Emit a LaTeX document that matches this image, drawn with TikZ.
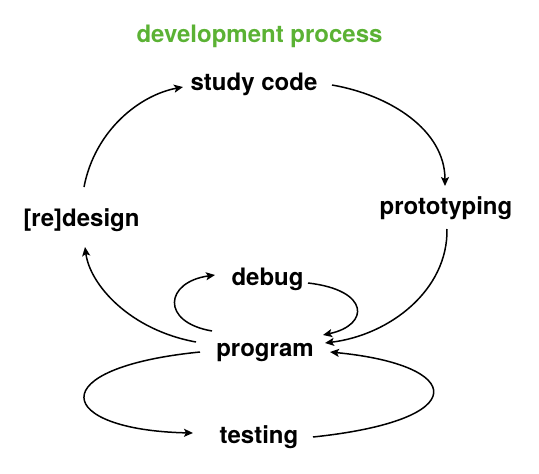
\documentclass[tikz,border=0pt]{standalone}
\usepackage{fontspec}
\setmainfont{TeX Gyre Heros}
\usetikzlibrary{arrows.meta}
\definecolor{titlegreen}{RGB}{91,178,52}
\begin{document}
\begin{tikzpicture}[x=1pt,y=-1pt,
  lbl/.style={inner sep=0pt,anchor=base,font=\fontsize{24}{28}\selectfont\bfseries},
  conn/.style={line width=1.5pt,-{Stealth[length=9pt,width=8pt,inset=2pt]}}]
\useasboundingbox (0,0) rectangle (539,474);
\node[lbl,text=titlegreen] (title) at (259.5,42) {development process};
\node[lbl] (sc) at (254,90) {study code};
\node[lbl] (proto) at (446,214) {prototyping};
\node[lbl] (rd) at (81.5,226) {[re]design};
\node[lbl] (dbg) at (267.5,285) {debug};
\node[lbl] (prog) at (265,356) {program};
\node[lbl] (test) at (259,443) {testing};
\draw[conn] ([shift={(78,-5)}]sc.base) .. controls (390,95) and (445,130) .. ([shift={(-1,-28)}]proto.base);
\draw[conn] ([shift={(1,15)}]proto.base) .. controls (448,290) and (390,335) .. ([shift={(60,-13)}]prog.base);
\draw[conn] ([shift={(-69,-14)}]prog.base) .. controls (130,330) and (90,285) .. ([shift={(3.5,21)}]rd.base);
\draw[conn] ([shift={(2.5,-39)}]rd.base) .. controls (95,130) and (140,95) .. ([shift={(-71,-3)}]sc.base);
\draw[conn] ([shift={(-53,-25)}]prog.base) .. controls (160,322) and (165,282) .. ([shift={(-52.5,-10)}]dbg.base);
\draw[conn] ([shift={(40.5,-2)}]dbg.base) .. controls (370,290) and (370,325) .. ([shift={(58,-21)}]prog.base);
\draw[conn] ([shift={(-65,-4)}]prog.base) .. controls (40,368) and (55,430) .. ([shift={(-66,-10)}]test.base);
\draw[conn] ([shift={(54,-6)}]test.base) .. controls (475,420) and (465,365) .. ([shift={(65,-4)}]prog.base);
\end{tikzpicture}
\end{document}
